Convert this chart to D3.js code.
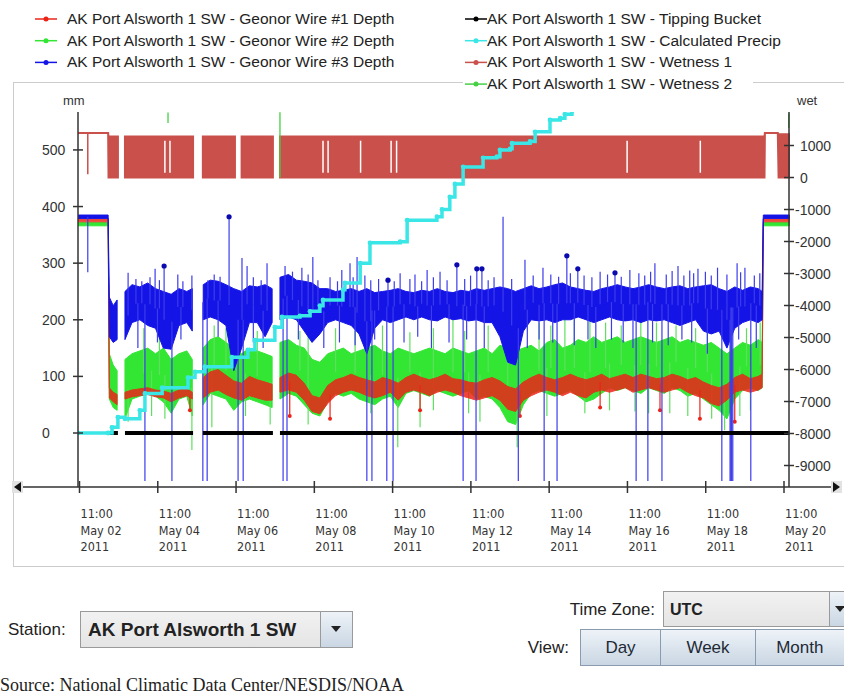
<!DOCTYPE html>
<html>
<head>
<meta charset="utf-8">
<script src="https://cdn.jsdelivr.net/npm/d3@7"></script>
<style>
  body { margin: 0; background: #fff; }
  svg { display: block; font-family: "Liberation Sans", Arial, sans-serif; }
</style>
</head>
<body>
<div id="chart"></div>
<script>
// ---- data (days are decimal days of May 2011, UTC) ----
const seriesNames = [
  'AK Port Alsworth 1 SW - Geonor Wire #1 Depth',
  'AK Port Alsworth 1 SW - Geonor Wire #2 Depth',
  'AK Port Alsworth 1 SW - Geonor Wire #3 Depth',
  'AK Port Alsworth 1 SW - Tipping Bucket',
  'AK Port Alsworth 1 SW - Calculated Precip',
  'AK Port Alsworth 1 SW - Wetness 1',
  'AK Port Alsworth 1 SW - Wetness 2'
];
const seriesColors = ['#ec2418', '#33e633', '#1414e6', '#000000', '#3ae6e6', '#c9504b', '#45d045'];

const xTickDays = [2, 4, 6, 8, 10, 12, 14, 16, 18, 20];   // 11:00 each
const mmTicks = [0, 100, 200, 300, 400, 500];
const wetTicks = [-9000, -8000, -7000, -6000, -5000, -4000, -3000, -2000, -1000, 0, 1000];

// wire depth bands: time grid and low/high readings per bin (null = no data)
const bandDays = [
  2.42, 3.19,
  3.22, 3.32, 3.42, 3.52,
  3.62, 3.8, 4.0, 4.2, 4.4, 4.6, 4.8, 5.0, 5.2, 5.34, 5.48,
  5.62, 5.8, 6.0, 6.2, 6.4, 6.6, 6.8, 7.0, 7.2, 7.38, 7.48,
  7.58, 7.8, 8.0, 8.2, 8.4, 8.6, 8.8, 9.0, 9.2, 9.4, 9.6, 9.8,
  10.0, 10.2, 10.4, 10.6, 10.8, 11.0, 11.2, 11.4, 11.6, 11.8,
  12.0, 12.2, 12.4, 12.6, 12.8, 13.0, 13.2, 13.4, 13.6, 13.8,
  14.0, 14.2, 14.4, 14.6, 14.8, 15.0, 15.2, 15.4, 15.6, 15.8,
  16.0, 16.2, 16.4, 16.6, 16.8, 17.0, 17.2, 17.4, 17.6, 17.8,
  18.0, 18.2, 18.4, 18.6, 18.8, 19.0, 19.2, 19.4, 19.6, 19.8, 19.9,
  19.93, 20.6
];
const wire3Lo = [
  379, 379,
  170, 160, 165, null,
  165, 195, 200, 190, 185, 150, 148, 190, 195, 180, null,
  200, 205, 200, 190, 110, 150, 195, 195, 170, 195, null,
  200, 205, 200, 180, 160, 175, 195, 200, 195, 190, 175, 140,
  185, 200, 195, 200, 205, 200, 205, 200, 198, 205,
  200, 202, 198, 200, 195, 195, 170, 125, 120, 180,
  200, 198, 200, 195, 200, 200, 205, 200, 195, 200,
  205, 200, 198, 200, 195, 200, 198, 200, 195, 190,
  195, 200, 180, 175, 180, 150, 185, 195, 200, 195, 200,
  379, 379
];
const wire3Hi = [
  385, 385,
  240, 225, 235, null,
  250, 262, 258, 265, 255, 250, 245, 255, 250, 255, null,
  262, 270, 268, 262, 255, 250, 260, 258, 262, 255, null,
  275, 280, 270, 268, 265, 255, 255, 250, 252, 255, 250, 255,
  248, 250, 252, 255, 250, 248, 252, 250, 255, 250,
  248, 252, 250, 255, 252, 255, 258, 255, 250, 255,
  260, 255, 258, 262, 265, 258, 255, 252, 250, 255,
  258, 262, 258, 255, 258, 262, 258, 255, 258, 260,
  255, 258, 260, 262, 255, 250, 258, 252, 258, 255, 250,
  385, 385
];
const wire2Lo = [
  366, 366,
  60, 45, 40, null,
  25, 60, 65, 70, 65, 55, 35, 60, 65, 30, null,
  50, 70, 65, 60, 40, 55, 60, 55, 50, 45, null,
  60, 70, 65, 50, 35, 30, 55, 70, 65, 70, 60, 55,
  50, 60, 65, 45, 70, 75, 70, 65, 75, 70,
  65, 70, 75, 60, 65, 60, 45, 20, 15, 50,
  70, 75, 70, 65, 70, 75, 65, 55, 60, 70,
  80, 75, 80, 75, 70, 80, 75, 70, 80, 75,
  65, 70, 60, 50, 40, 25, 60, 75, 80, 75, 80,
  366, 366
];
const wire2Hi = [
  372, 372,
  140, 120, 110, null,
  130, 140, 145, 150, 140, 150, 130, 140, 145, 130, null,
  150, 165, 170, 160, 150, 140, 150, 145, 140, 135, null,
  160, 165, 155, 150, 130, 125, 140, 145, 150, 140, 145, 150,
  155, 145, 140, 150, 145, 140, 145, 150, 145, 140,
  150, 145, 140, 145, 150, 140, 155, 150, 145, 150,
  155, 145, 160, 165, 150, 155, 165, 160, 170, 160,
  165, 170, 160, 165, 170, 165, 160, 165, 170, 160,
  165, 160, 155, 160, 150, 140, 150, 160, 155, 165, 160,
  372, 372
];
const wire1Lo = [
  373, 373,
  62, 55, 50, null,
  60, 64, 66, 68, 64, 62, 55, 62, 66, 60, null,
  62, 72, 76, 68, 62, 58, 66, 62, 58, 58, null,
  72, 76, 72, 58, 38, 34, 52, 66, 72, 76, 72, 66,
  62, 66, 72, 58, 72, 76, 72, 66, 72, 76,
  72, 66, 62, 58, 62, 66, 58, 42, 38, 58,
  66, 72, 76, 72, 66, 72, 66, 62, 72, 76,
  72, 76, 80, 72, 76, 80, 76, 72, 76, 80,
  72, 66, 62, 52, 48, 58, 72, 76, 72, 76, 80,
  373, 373
];
const wire1Hi = [
  378, 378,
  80, 72, 68, null,
  72, 76, 78, 80, 76, 74, 70, 76, 78, 72, null,
  98, 108, 112, 102, 92, 88, 100, 94, 90, 86, null,
  98, 106, 102, 88, 66, 62, 84, 94, 98, 104, 98, 94,
  90, 98, 94, 88, 98, 104, 98, 94, 98, 104,
  96, 94, 90, 88, 94, 98, 92, 82, 78, 90,
  98, 104, 98, 94, 98, 104, 98, 94, 98, 104,
  96, 100, 104, 98, 104, 100, 96, 98, 104, 100,
  94, 98, 90, 84, 80, 86, 98, 104, 96, 100, 104,
  378, 378
];

// single readings that leave the band: [day, mm]
const wire3Spikes = [
  [4.13, -100], [4.82, -100], [5.61, -100], [5.72, -100], [6.51, -100], [6.64, -100],
  [7.66, -100], [7.76, -100], [9.80, -100], [9.93, -100], [10.31, -100], [10.47, -100],
  [12.26, -100], [12.59, -100], [13.67, -100], [14.33, -100], [14.66, -100], [16.68, -100],
  [16.98, -100], [17.34, -100], [18.87, -100], [19.08, -100], [19.10, -100], [19.12, -100],
  [19.15, -100], [19.61, -100],
  [2.67, 284], [3.70, 283], [4.26, 275], [4.39, 290], [4.62, 295], [4.97, 280], [5.33, 278],
  [5.74, 270], [6.28, 382], [6.61, 309], [6.74, 295], [7.25, 300], [7.71, 295], [8.14, 292],
  [8.42, 311], [8.86, 275], [9.16, 288], [9.37, 300], [9.55, 311], [9.75, 278], [10.34, 270],
  [10.65, 282], [11.03, 280], [11.34, 288], [11.67, 285], [12.10, 297], [12.61, 290],
  [12.74, 290], [13.28, 382], [13.84, 306], [14.30, 292], [14.91, 313], [15.19, 290],
  [15.76, 285], [16.14, 283], [16.52, 288], [17.16, 300], [17.75, 295], [18.05, 287],
  [18.26, 290], [18.76, 292], [19.26, 300], [19.46, 292], [19.84, 282],
  [3.9, 272], [4.05, 268], [4.5, 270], [5.1, 268], [5.9, 280], [6.05, 276], [6.9, 275],
  [7.1, 270], [7.9, 285], [8.3, 280], [8.55, 270], [9.05, 268], [9.45, 275], [9.9, 270],
  [10.1, 272], [10.5, 268], [10.9, 272], [11.2, 268], [11.5, 275], [11.85, 270], [12.3, 272],
  [12.45, 278], [12.9, 270], [13.05, 275], [13.5, 272], [14.05, 278], [14.5, 280], [14.7, 276],
  [15.0, 282], [15.35, 278], [15.55, 275], [15.95, 280], [16.3, 276], [16.75, 282], [16.9, 278],
  [17.05, 285], [17.45, 280], [17.6, 286], [17.9, 278], [18.15, 282], [18.45, 285], [18.6, 278],
  [19.0, 280], [19.35, 284], [19.7, 278],
  [3.95, 150], [4.45, 160], [5.05, 165], [6.0, 170], [6.9, 160], [7.15, 150], [8.05, 165],
  [8.7, 150], [9.1, 160], [9.5, 155], [10.0, 165], [10.75, 160], [11.1, 170], [11.45, 150],
  [11.9, 160], [12.35, 165], [12.8, 150], [13.9, 150], [14.2, 165], [14.55, 160], [15.1, 155],
  [15.45, 165], [15.65, 150], [16.05, 165], [16.35, 160], [16.6, 150], [17.1, 160], [17.5, 155],
  [17.85, 165], [18.1, 160], [18.5, 140], [19.3, 165], [19.75, 150]
];
const wire3Dots = [[4.62, 295], [6.28, 382], [10.34, 270], [12.10, 297], [12.61, 290],
  [12.74, 290], [14.91, 313], [15.19, 290], [16.14, 283]];
const wire2Spikes = [
  [3.70, 20], [4.64, 25], [5.33, -30], [5.84, 10], [6.51, 200], [7.33, 15], [8.09, 180],
  [10.59, -25], [11.16, 10], [12.0, 215], [12.69, 20], [13.64, -25], [14.86, 222],
  [15.37, 35], [16.65, 38], [17.54, 35], [18.61, 25], [18.94, 5], [19.33, 30],
  [4.1, 185], [4.5, 175], [5.9, 190], [6.2, 185], [7.0, 180], [8.3, 175], [9.0, 185],
  [9.5, 180], [10.2, 190], [10.9, 178], [11.5, 185], [12.3, 180], [12.9, 190], [13.4, 200],
  [14.2, 195], [14.5, 190], [15.1, 200], [15.5, 205], [15.9, 195], [16.3, 190], [16.8, 200],
  [17.2, 195], [17.7, 190], [18.2, 185], [18.5, 195], [19.1, 190], [19.5, 185], [19.85, 195],
  [4.3, 30], [6.7, 30], [8.3, 15], [9.9, 35], [11.5, 40], [12.4, 35], [14.4, 30],
  [16.0, 40], [17.0, 35], [18.0, 30], [19.6, 40]
];
const wire1Spikes = [[5.28, 40], [7.83, 30], [8.86, 25], [11.16, 40], [13.71, 30],
  [15.76, 45], [17.29, 40], [18.31, 25], [19.2, 20]];

// tipping bucket
const tipDays = [3.19, 3.44, 3.53, 3.62, 5.36, 5.48, 5.61, 7.40, 7.49, 7.58, 20.6];
const tipVals = [0, 0, null, 0, 0, null, 0, 0, null, 0, 0];

// calculated precip (mm)
const precipDays = [2.42, 3.19, 3.29, 3.44, 3.62, 4.00, 4.13, 4.57, 5.23, 5.41, 5.66, 6.35,
  6.76, 6.94, 7.45, 7.63, 8.09, 8.35, 8.60, 8.68, 9.19, 9.24, 9.63, 9.88, 10.65, 10.83,
  11.59, 11.72, 11.92, 12.05, 12.26, 12.77, 13.12, 13.20, 13.46, 13.51, 13.97, 14.10,
  14.48, 14.74, 14.86, 15.04];
const precipVals = [0, 0, 10, 28, 25, 40, 70, 80, 98, 108, 117, 134,
  147, 164, 187, 205, 207, 215, 225, 235, 253, 265, 300, 336, 338, 376,
  382, 395, 417, 440, 470, 486, 488, 500, 502, 512, 515, 532,
  553, 556, 563, 569];

// wetness 1 (wet units) low/high per sample
const wet1Days = [2.42, 3.19, 3.20, 3.44, 3.53, 3.62, 5.36, 5.48, 5.61, 6.43, 6.51, 6.60,
  7.40, 7.49, 7.58, 19.96, 19.97, 20.30, 20.32, 20.62];
const wet1Lo = [1390, 1390, 0, 0, null, 0, 0, null, 0, 0, null, 0,
  0, null, 0, 0, 1390, 1390, 0, 0];
const wet1Hi = [1390, 1390, 1280, 1280, null, 1280, 1280, null, 1280, 1280, null, 1280,
  1280, null, 1280, 1280, 1390, 1390, 1350, 1350];
const wet1Drops = [4.64, 4.77, 8.68, 8.81, 9.64, 10.42, 10.56, 16.45, 18.32];
const wet1Spikes = [[2.67, 100]];
// wetness 2 visible readings: [day, from, to]
const wet2Spikes = [[4.72, 1700, 2030], [7.58, 0, 2040], [20.58, 1550, 2000]];

// ---- chart ----
const W = 844, H = 694;
const toDate = d => new Date(Date.UTC(2011, 4, 1) + (d - 1) * 864e5);

const x = d3.scaleUtc()
  .domain([toDate(2 + 11 / 24), toDate(20 + 11 / 24)])
  .range([79.5, 784]);
const yL = d3.scaleLinear().domain([-83, 567]).range([480, 112]);
const yR = d3.scaleLinear().domain([-9453, 2047]).range([480, 112]);

const svg = d3.select('#chart').append('svg')
  .attr('width', W)
  .attr('height', H);

// chart panel
svg.append('rect')
  .attr('x', 13.5).attr('y', 82.5)
  .attr('width', 850).attr('height', 484)
  .attr('fill', '#fff')
  .attr('stroke', '#cccccc');

// legend
seriesNames.forEach((name, i) => {
  const col = i < 3 ? 0 : 1;
  const row = i < 3 ? i : i - 3;
  const mx = col ? 465 : 35;
  const cy = 19 + row * 21.7;
  const g = svg.append('g');
  if (row === 3) {
    g.append('rect').attr('x', mx - 2).attr('y', cy - 8).attr('width', 290).attr('height', 16).attr('fill', '#fff');
  }
  g.append('line')
    .attr('x1', mx).attr('x2', mx + 22)
    .attr('y1', cy).attr('y2', cy)
    .attr('stroke', seriesColors[i]).attr('stroke-width', 1.5);
  g.append('circle')
    .attr('cx', mx + 11).attr('cy', cy).attr('r', 2.5)
    .attr('fill', seriesColors[i]);
  g.append('text')
    .attr('x', col ? 487 : 67).attr('y', cy + 5)
    .attr('font-size', 15.5)
    .attr('fill', '#222')
    .text(name);
});

// plot area
svg.append('clipPath').attr('id', 'plotClip')
  .append('rect').attr('x', 78).attr('y', 112).attr('width', 712).attr('height', 369);
const plot = svg.append('g').attr('clip-path', 'url(#plotClip)');

const px = d => x(toDate(d));
const rows = (days, lo, hi) => days.map((t, i) => ({ t, lo: lo[i], hi: hi[i] }));
const bandArea = y => d3.area()
  .defined(d => d.lo != null)
  .x(d => px(d.t))
  .y0(d => y(d.lo))
  .y1(d => y(d.hi));

// middle of the nearest defined bin, used as the foot of a spike
function bandMid(days, lo, hi, d) {
  let best = -1, bestDist = Infinity;
  days.forEach((t, i) => {
    if (lo[i] == null) return;
    const dist = Math.abs(t - d);
    if (dist < bestDist) { bestDist = dist; best = i; }
  });
  return (lo[best] + hi[best]) / 2;
}

function spikes(sel, data, days, lo, hi, color, width) {
  sel.selectAll(null).data(data).join('line')
    .attr('x1', d => px(d[0])).attr('x2', d => px(d[0]))
    .attr('y1', d => yL(bandMid(days, lo, hi, d[0])))
    .attr('y2', d => yL(d[1]))
    .attr('stroke', color).attr('stroke-width', width);
}

// wetness 1 band (right axis)
plot.append('path')
  .datum(rows(wet1Days, wet1Lo, wet1Hi))
  .attr('d', bandArea(yR))
  .attr('fill', seriesColors[5])
  .attr('stroke', seriesColors[5])
  .attr('stroke-width', 2);
plot.selectAll(null).data(wet1Drops).join('line')
  .attr('x1', d => px(d)).attr('x2', d => px(d))
  .attr('y1', yR(1150)).attr('y2', yR(150))
  .attr('stroke', '#fff').attr('stroke-width', 1.5);
plot.selectAll(null).data(wet1Spikes).join('line')
  .attr('x1', d => px(d[0])).attr('x2', d => px(d[0]))
  .attr('y1', yR(1390)).attr('y2', d => yR(d[1]))
  .attr('stroke', seriesColors[5]).attr('stroke-width', 1.5);
plot.selectAll(null).data(wet2Spikes).join('line')
  .attr('x1', d => px(d[0])).attr('x2', d => px(d[0]))
  .attr('y1', d => yR(d[1])).attr('y2', d => yR(d[2]))
  .attr('stroke', seriesColors[6]).attr('stroke-width', 1.3);

// wire 2 (green) and wire 1 (red)
plot.append('path')
  .datum(rows(bandDays, wire2Lo, wire2Hi))
  .attr('d', bandArea(yL))
  .attr('fill', seriesColors[1])
  .attr('stroke', seriesColors[1])
  .attr('stroke-width', 1);
spikes(plot, wire2Spikes, bandDays, wire2Lo, wire2Hi, '#5ee05e', 1.2);
plot.append('path')
  .datum(rows(bandDays, wire1Lo, wire1Hi))
  .attr('d', bandArea(yL))
  .attr('fill', seriesColors[0])
  .attr('stroke', seriesColors[0])
  .attr('stroke-width', 1)
  .attr('opacity', 0.85);
spikes(plot, wire1Spikes, bandDays, wire1Lo, wire1Hi, seriesColors[0], 1.2);
plot.selectAll(null).data(wire1Spikes).join('circle')
  .attr('cx', d => px(d[0])).attr('cy', d => yL(d[1])).attr('r', 2)
  .attr('fill', seriesColors[0]);

// wire 3 (blue)
plot.append('path')
  .datum(rows(bandDays, wire3Lo, wire3Hi))
  .attr('d', bandArea(yL))
  .attr('fill', seriesColors[2])
  .attr('stroke', seriesColors[2])
  .attr('stroke-width', 1);
spikes(plot, wire3Spikes, bandDays, wire3Lo, wire3Hi, '#3c3cec', 1.2);
plot.selectAll(null).data(wire3Dots).join('circle')
  .attr('cx', d => px(d[0])).attr('cy', d => yL(d[1])).attr('r', 2.6)
  .attr('fill', '#0a0ab0');

// tipping bucket
plot.append('path')
  .datum(tipDays.map((t, i) => ({ t, v: tipVals[i] })))
  .attr('d', d3.line().defined(d => d.v != null).x(d => px(d.t)).y(d => yL(d.v)))
  .attr('fill', 'none')
  .attr('stroke', seriesColors[3])
  .attr('stroke-width', 4);

// calculated precip
const precip = precipDays.map((t, i) => ({ t, v: precipVals[i] }));
plot.append('path')
  .datum(precip)
  .attr('d', d3.line().curve(d3.curveStepAfter).x(d => px(d.t)).y(d => yL(d.v)))
  .attr('fill', 'none')
  .attr('stroke', seriesColors[4])
  .attr('stroke-width', 3.5);
plot.selectAll(null).data(precip).join('circle')
  .attr('cx', d => px(d.t)).attr('cy', d => yL(d.v)).attr('r', 2.4)
  .attr('fill', seriesColors[4]);

// ---- axes ----
const axisColor = '#333';
// left axis
svg.append('line').attr('x1', 78).attr('x2', 78).attr('y1', 112).attr('y2', 487)
  .attr('stroke', axisColor).attr('stroke-width', 1.5);
const gL = svg.append('g');
mmTicks.forEach(v => {
  gL.append('line').attr('x1', 73).attr('x2', 83).attr('y1', yL(v)).attr('y2', yL(v))
    .attr('stroke', axisColor).attr('stroke-width', 1.5);
  gL.append('text').attr('x', 42).attr('y', yL(v) + 5)
    .attr('font-size', 14).attr('fill', '#333').text(v);
});
svg.append('text').attr('x', 63).attr('y', 105).attr('font-size', 13).attr('fill', '#333').text('mm');

// right axis
svg.append('line').attr('x1', 789).attr('x2', 789).attr('y1', 112).attr('y2', 487)
  .attr('stroke', axisColor).attr('stroke-width', 1.5);
const gR = svg.append('g');
wetTicks.forEach(v => {
  gR.append('line').attr('x1', 784).attr('x2', 794).attr('y1', yR(v)).attr('y2', yR(v))
    .attr('stroke', axisColor).attr('stroke-width', 1.5);
  gR.append('text').attr('x', v < 0 ? 795 : 800).attr('y', yR(v) + 5)
    .attr('font-size', 14).attr('fill', '#333').text(String(v));
});
svg.append('text').attr('x', 797).attr('y', 105).attr('font-size', 13).attr('fill', '#333').text('wet');

// time axis
svg.append('line').attr('x1', 22).attr('x2', 832).attr('y1', 487).attr('y2', 487)
  .attr('stroke', axisColor).attr('stroke-width', 1.5);
const gX = svg.append('g');
const fTime = d3.utcFormat('%H:%M'), fDay = d3.utcFormat('%b %d'), fYear = d3.utcFormat('%Y');
xTickDays.forEach(d => {
  const date = toDate(d + 11 / 24);
  const xx = x(date);
  gX.append('line').attr('x1', xx).attr('x2', xx).attr('y1', 481).attr('y2', 493)
    .attr('stroke', axisColor).attr('stroke-width', 1.5);
  const t = gX.append('text')
    .attr('font-family', '"Liberation Sans Narrow", "DejaVu Sans Condensed", sans-serif')
    .attr('font-size', 12.5).attr('fill', '#333');
  [fTime(date), fDay(date), fYear(date)].forEach((s, k) => {
    t.append('tspan').attr('x', xx + 1).attr('y', 518 + k * 16.5).text(s);
  });
});
// scroll arrows
svg.append('rect').attr('x', 12).attr('y', 481).attr('width', 11).attr('height', 12).attr('fill', '#e2e2e2');
svg.append('path').attr('d', 'M14,487 L21,482 L21,492 Z').attr('fill', '#111');
svg.append('rect').attr('x', 831).attr('y', 481).attr('width', 11).attr('height', 12).attr('fill', '#e2e2e2');
svg.append('path').attr('d', 'M840,487 L833,482 L833,492 Z').attr('fill', '#111');

// ---- controls ----
const defs = svg.append('defs');
const g1 = defs.append('linearGradient').attr('id', 'comboGrad').attr('x1', 0).attr('x2', 0).attr('y1', 0).attr('y2', 1);
g1.append('stop').attr('offset', 0).attr('stop-color', '#f2f2f2');
g1.append('stop').attr('offset', 1).attr('stop-color', '#e4e4e4');
const g2 = defs.append('linearGradient').attr('id', 'btnGrad').attr('x1', 0).attr('x2', 0).attr('y1', 0).attr('y2', 1);
g2.append('stop').attr('offset', 0).attr('stop-color', '#eef3f8');
g2.append('stop').attr('offset', 1).attr('stop-color', '#c9d6e3');

svg.append('text').attr('x', 8).attr('y', 635).attr('font-size', 17).attr('fill', '#222').text('Station:');
svg.append('rect').attr('x', 80.5).attr('y', 611.5).attr('width', 272).attr('height', 36)
  .attr('fill', 'url(#comboGrad)').attr('stroke', '#9a9a9a');
svg.append('rect').attr('x', 320.5).attr('y', 611.5).attr('width', 32).attr('height', 36)
  .attr('fill', 'url(#btnGrad)').attr('stroke', '#9a9a9a');
svg.append('path').attr('d', 'M331,626 L341,626 L336,632 Z').attr('fill', '#222');
svg.append('text').attr('x', 88).attr('y', 636).attr('font-size', 19).attr('font-weight', 'bold')
  .attr('fill', '#222').text('AK Port Alsworth 1 SW');

svg.append('text').attr('x', 655).attr('y', 615).attr('text-anchor', 'end').attr('font-size', 17)
  .attr('fill', '#222').text('Time Zone:');
svg.append('rect').attr('x', 663.5).attr('y', 591.5).attr('width', 200).attr('height', 35)
  .attr('fill', 'url(#comboGrad)').attr('stroke', '#9a9a9a');
svg.append('rect').attr('x', 829.5).attr('y', 591.5).attr('width', 30).attr('height', 35)
  .attr('fill', 'url(#btnGrad)').attr('stroke', '#9a9a9a');
svg.append('path').attr('d', 'M835,606 L845,606 L840,612 Z').attr('fill', '#222');
svg.append('text').attr('x', 670).attr('y', 615).attr('font-size', 16).attr('font-weight', 'bold')
  .attr('fill', '#222').text('UTC');

svg.append('text').attr('x', 569).attr('y', 653).attr('text-anchor', 'end').attr('font-size', 17)
  .attr('fill', '#222').text('View:');
const views = ['Day', 'Week', 'Month'];
const viewEdges = [580.5, 660.5, 755.5, 850];
views.forEach((v, i) => {
  svg.append('rect').attr('x', viewEdges[i]).attr('y', 629.5)
    .attr('width', viewEdges[i + 1] - viewEdges[i]).attr('height', 36)
    .attr('fill', 'url(#btnGrad)').attr('stroke', '#8a9bb0');
  svg.append('text').attr('x', (viewEdges[i] + Math.min(viewEdges[i + 1], 844)) / 2)
    .attr('y', 653).attr('text-anchor', 'middle').attr('font-size', 17)
    .attr('fill', '#1e2a36').text(v);
});

svg.append('text').attr('x', 0).attr('y', 691)
  .attr('font-family', '"Liberation Serif", "Times New Roman", serif')
  .attr('font-size', 18).attr('fill', '#222')
  .text('Source: National Climatic Data Center/NESDIS/NOAA');
</script>
</body>
</html>
